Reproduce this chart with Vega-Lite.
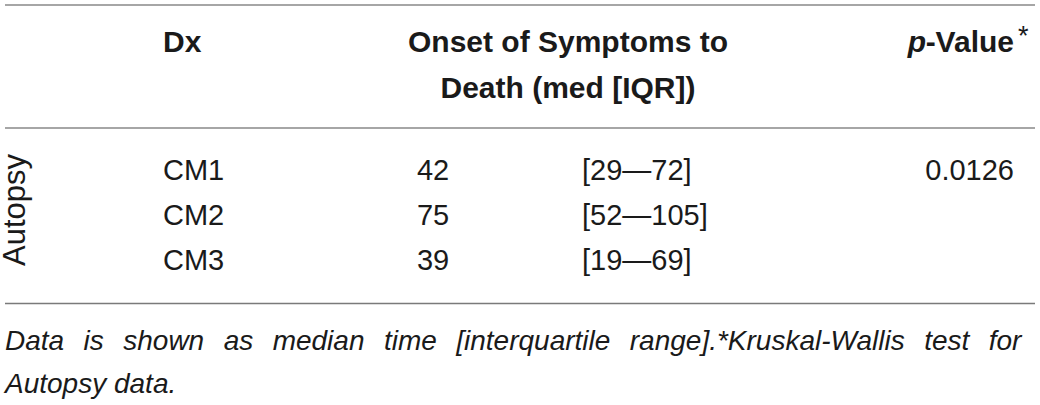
{
  "$schema": "https://vega.github.io/schema/vega-lite/v6.json",
  "width": 1030,
  "height": 405,
  "autosize": {"type": "none"},
  "padding": {"left": 5, "right": 5, "top": 0, "bottom": 0},
  "background": "white",
  "config": {"view": {"stroke": null}},
  "data": {"values": [
    {"kind": "rule", "row": 0},
    {"kind": "rule", "row": 3},
    {"kind": "rule", "row": 7},
    {"kind": "headl", "col": 2, "row": 1, "text": "Dx"},
    {"kind": "headc", "col": 4, "row": 1, "text": "Onset of Symptoms to"},
    {"kind": "headc", "col": 4, "row": 2, "text": "Death (med [IQR])"},
    {"kind": "headp", "col": 6, "row": 1, "text": "p"},
    {"kind": "headr", "col": 7, "row": 1, "text": "-Value"},
    {"kind": "star", "col": 8, "row": 1, "text": "*"},
    {"kind": "group", "col": 1, "row": 5, "text": "Autopsy"},
    {"kind": "dx", "col": 2, "row": 4, "text": "CM1"},
    {"kind": "dx", "col": 2, "row": 5, "text": "CM2"},
    {"kind": "dx", "col": 2, "row": 6, "text": "CM3"},
    {"kind": "med", "col": 3, "row": 4, "text": "42"},
    {"kind": "med", "col": 3, "row": 5, "text": "75"},
    {"kind": "med", "col": 3, "row": 6, "text": "39"},
    {"kind": "iqr", "col": 5, "row": 4, "text": "[29—72]"},
    {"kind": "iqr", "col": 5, "row": 5, "text": "[52—105]"},
    {"kind": "iqr", "col": 5, "row": 6, "text": "[19—69]"},
    {"kind": "pval", "col": 7, "row": 4, "text": "0.0126"},
    {"kind": "note", "col": 0, "row": 8, "text": "Data \u2005\u2006is \u2005\u2006shown \u2005\u2006as \u2005\u2006median \u2005\u2006time \u2005\u2006[interquartile \u2005\u2006range].*Kruskal-Wallis \u2005\u2006test \u2005\u2006for"},
    {"kind": "note", "col": 0, "row": 9, "text": "Autopsy data."}
  ]},
  "layer": [
    {
      "transform": [{"filter": "datum.kind == 'rule' && datum.row < 7"}],
      "mark": {"type": "rule", "stroke": "#a6a6a6", "strokeWidth": 2},
      "encoding": {"y": {"field": "row", "type": "quantitative", "axis": null, "scale": {"domain": [0,1,2,3,4,5,6,7,8,9], "range": [5,52,98,128,180,225,270,303.5,350,393], "nice": false, "zero": false}}}
    },
    {
      "transform": [{"filter": "datum.kind == 'rule' && datum.row == 7"}],
      "mark": {"type": "rule", "stroke": "#7a7a7a", "strokeWidth": 1.5},
      "encoding": {"y": {"field": "row", "type": "quantitative", "axis": null, "scale": {"domain": [0,1,2,3,4,5,6,7,8,9], "range": [5,52,98,128,180,225,270,303.5,350,393], "nice": false, "zero": false}}}
    },
    {
      "transform": [{"filter": "datum.kind == 'dx' || datum.kind == 'iqr'"}],
      "mark": {"type": "text", "align": "left", "baseline": "alphabetic", "font": "Liberation Sans", "fontSize": 29, "color": "#1a1a1a"},
      "encoding": {
        "x": {"field": "col", "type": "quantitative", "axis": null, "scale": {"domain": [0,1,2,3,4,5,6,7,8], "range": [0,20,158,428,563,577,921,1009,1013], "nice": false, "zero": false}},
        "y": {"field": "row", "type": "quantitative", "axis": null, "scale": {"domain": [0,1,2,3,4,5,6,7,8,9], "range": [5,52,98,128,180,225,270,303.5,350,393], "nice": false, "zero": false}},
        "text": {"field": "text"}
      }
    },
    {
      "transform": [{"filter": "datum.kind == 'med'"}],
      "mark": {"type": "text", "align": "center", "baseline": "alphabetic", "font": "Liberation Sans", "fontSize": 29, "color": "#1a1a1a"},
      "encoding": {
        "x": {"field": "col", "type": "quantitative", "axis": null, "scale": {"domain": [0,1,2,3,4,5,6,7,8], "range": [0,20,158,428,563,577,921,1009,1013], "nice": false, "zero": false}},
        "y": {"field": "row", "type": "quantitative", "axis": null, "scale": {"domain": [0,1,2,3,4,5,6,7,8,9], "range": [5,52,98,128,180,225,270,303.5,350,393], "nice": false, "zero": false}},
        "text": {"field": "text"}
      }
    },
    {
      "transform": [{"filter": "datum.kind == 'pval'"}],
      "mark": {"type": "text", "align": "right", "baseline": "alphabetic", "font": "Liberation Sans", "fontSize": 29, "color": "#1a1a1a"},
      "encoding": {
        "x": {"field": "col", "type": "quantitative", "axis": null, "scale": {"domain": [0,1,2,3,4,5,6,7,8], "range": [0,20,158,428,563,577,921,1009,1013], "nice": false, "zero": false}},
        "y": {"field": "row", "type": "quantitative", "axis": null, "scale": {"domain": [0,1,2,3,4,5,6,7,8,9], "range": [5,52,98,128,180,225,270,303.5,350,393], "nice": false, "zero": false}},
        "text": {"field": "text"}
      }
    },
    {
      "transform": [{"filter": "datum.kind == 'headl'"}],
      "mark": {"type": "text", "align": "left", "baseline": "alphabetic", "font": "Liberation Sans", "fontWeight": "bold", "fontSize": 30, "color": "#1a1a1a"},
      "encoding": {
        "x": {"field": "col", "type": "quantitative", "axis": null, "scale": {"domain": [0,1,2,3,4,5,6,7,8], "range": [0,20,158,428,563,577,921,1009,1013], "nice": false, "zero": false}},
        "y": {"field": "row", "type": "quantitative", "axis": null, "scale": {"domain": [0,1,2,3,4,5,6,7,8,9], "range": [5,52,98,128,180,225,270,303.5,350,393], "nice": false, "zero": false}},
        "text": {"field": "text"}
      }
    },
    {
      "transform": [{"filter": "datum.kind == 'headc'"}],
      "mark": {"type": "text", "align": "center", "baseline": "alphabetic", "font": "Liberation Sans", "fontWeight": "bold", "fontSize": 30, "color": "#1a1a1a"},
      "encoding": {
        "x": {"field": "col", "type": "quantitative", "axis": null, "scale": {"domain": [0,1,2,3,4,5,6,7,8], "range": [0,20,158,428,563,577,921,1009,1013], "nice": false, "zero": false}},
        "y": {"field": "row", "type": "quantitative", "axis": null, "scale": {"domain": [0,1,2,3,4,5,6,7,8,9], "range": [5,52,98,128,180,225,270,303.5,350,393], "nice": false, "zero": false}},
        "text": {"field": "text"}
      }
    },
    {
      "transform": [{"filter": "datum.kind == 'headr'"}],
      "mark": {"type": "text", "align": "right", "baseline": "alphabetic", "font": "Liberation Sans", "fontWeight": "bold", "fontSize": 30, "color": "#1a1a1a"},
      "encoding": {
        "x": {"field": "col", "type": "quantitative", "axis": null, "scale": {"domain": [0,1,2,3,4,5,6,7,8], "range": [0,20,158,428,563,577,921,1009,1013], "nice": false, "zero": false}},
        "y": {"field": "row", "type": "quantitative", "axis": null, "scale": {"domain": [0,1,2,3,4,5,6,7,8,9], "range": [5,52,98,128,180,225,270,303.5,350,393], "nice": false, "zero": false}},
        "text": {"field": "text"}
      }
    },
    {
      "transform": [{"filter": "datum.kind == 'headp'"}],
      "mark": {"type": "text", "align": "right", "baseline": "alphabetic", "font": "Liberation Sans", "fontWeight": "bold", "fontStyle": "italic", "fontSize": 30, "color": "#1a1a1a"},
      "encoding": {
        "x": {"field": "col", "type": "quantitative", "axis": null, "scale": {"domain": [0,1,2,3,4,5,6,7,8], "range": [0,20,158,428,563,577,921,1009,1013], "nice": false, "zero": false}},
        "y": {"field": "row", "type": "quantitative", "axis": null, "scale": {"domain": [0,1,2,3,4,5,6,7,8,9], "range": [5,52,98,128,180,225,270,303.5,350,393], "nice": false, "zero": false}},
        "text": {"field": "text"}
      }
    },
    {
      "transform": [{"filter": "datum.kind == 'star'"}],
      "mark": {"type": "text", "align": "left", "baseline": "alphabetic", "font": "Liberation Sans", "fontSize": 27, "dy": -7, "color": "#1a1a1a"},
      "encoding": {
        "x": {"field": "col", "type": "quantitative", "axis": null, "scale": {"domain": [0,1,2,3,4,5,6,7,8], "range": [0,20,158,428,563,577,921,1009,1013], "nice": false, "zero": false}},
        "y": {"field": "row", "type": "quantitative", "axis": null, "scale": {"domain": [0,1,2,3,4,5,6,7,8,9], "range": [5,52,98,128,180,225,270,303.5,350,393], "nice": false, "zero": false}},
        "text": {"field": "text"}
      }
    },
    {
      "transform": [{"filter": "datum.kind == 'group'"}],
      "mark": {"type": "text", "align": "center", "baseline": "alphabetic", "angle": 270, "dx": 15, "font": "Liberation Sans", "fontSize": 31, "color": "#1a1a1a"},
      "encoding": {
        "x": {"field": "col", "type": "quantitative", "axis": null, "scale": {"domain": [0,1,2,3,4,5,6,7,8], "range": [0,20,158,428,563,577,921,1009,1013], "nice": false, "zero": false}},
        "y": {"field": "row", "type": "quantitative", "axis": null, "scale": {"domain": [0,1,2,3,4,5,6,7,8,9], "range": [5,52,98,128,180,225,270,303.5,350,393], "nice": false, "zero": false}},
        "text": {"field": "text"}
      }
    },
    {
      "transform": [{"filter": "datum.kind == 'note'"}],
      "mark": {"type": "text", "align": "left", "baseline": "alphabetic", "font": "Liberation Sans", "fontStyle": "italic", "fontSize": 28, "color": "#1a1a1a"},
      "encoding": {
        "x": {"field": "col", "type": "quantitative", "axis": null, "scale": {"domain": [0,1,2,3,4,5,6,7,8], "range": [0,20,158,428,563,577,921,1009,1013], "nice": false, "zero": false}},
        "y": {"field": "row", "type": "quantitative", "axis": null, "scale": {"domain": [0,1,2,3,4,5,6,7,8,9], "range": [5,52,98,128,180,225,270,303.5,350,393], "nice": false, "zero": false}},
        "text": {"field": "text"}
      }
    }
  ]
}
